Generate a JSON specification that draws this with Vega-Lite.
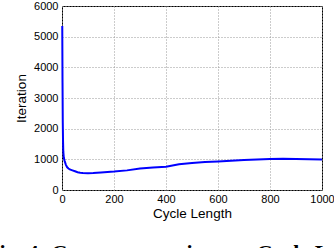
{
  "$schema": "https://vega.github.io/schema/vega-lite/v6.json",
  "autosize": "none",
  "width": 260,
  "height": 184,
  "padding": {"left": 62, "top": 6, "right": 12, "bottom": 58},
  "background": "white",
  "title": {
    "text": "Fig. 4: Convergence time vs. Cycle Length",
    "orient": "bottom",
    "anchor": "start",
    "frame": "group",
    "font": "Liberation Serif",
    "fontWeight": "bold",
    "fontSize": 22,
    "color": "#000",
    "baseline": "top",
    "dx": -76,
    "offset": 23
  },
  "config": {
    "view": {"stroke": "#000", "strokeWidth": 1},
    "axis": {
      "domain": false,
      "ticks": false,
      "grid": true,
      "gridColor": "#999",
      "gridDash": [1, 2],
      "gridWidth": 1,
      "format": "d",
      "labelFont": "Liberation Sans",
      "labelFontSize": 11,
      "labelColor": "#000",
      "titleFont": "Liberation Sans",
      "titleFontSize": 13.5,
      "titleFontWeight": "normal",
      "titleColor": "#000"
    }
  },
  "data": {
    "values": [
      {"cycle": 1, "iter": 5350},
      {"cycle": 2, "iter": 3500},
      {"cycle": 3, "iter": 2200},
      {"cycle": 4, "iter": 1600},
      {"cycle": 5, "iter": 1250},
      {"cycle": 7, "iter": 1050},
      {"cycle": 10, "iter": 950},
      {"cycle": 15, "iter": 820},
      {"cycle": 20, "iter": 740},
      {"cycle": 25, "iter": 700},
      {"cycle": 30, "iter": 670},
      {"cycle": 40, "iter": 640},
      {"cycle": 50, "iter": 610},
      {"cycle": 60, "iter": 580},
      {"cycle": 70, "iter": 565},
      {"cycle": 80, "iter": 555},
      {"cycle": 100, "iter": 550},
      {"cycle": 120, "iter": 555},
      {"cycle": 150, "iter": 570},
      {"cycle": 200, "iter": 600},
      {"cycle": 250, "iter": 640},
      {"cycle": 300, "iter": 700},
      {"cycle": 350, "iter": 730},
      {"cycle": 400, "iter": 760},
      {"cycle": 450, "iter": 840},
      {"cycle": 500, "iter": 880},
      {"cycle": 550, "iter": 910},
      {"cycle": 600, "iter": 930},
      {"cycle": 650, "iter": 950},
      {"cycle": 700, "iter": 975},
      {"cycle": 750, "iter": 995},
      {"cycle": 800, "iter": 1010},
      {"cycle": 850, "iter": 1020},
      {"cycle": 900, "iter": 1010},
      {"cycle": 950, "iter": 1000},
      {"cycle": 1000, "iter": 995}
    ]
  },
  "mark": {"type": "line", "color": "#0000ff", "strokeWidth": 2},
  "encoding": {
    "x": {
      "field": "cycle",
      "type": "quantitative",
      "scale": {"domain": [0, 1000], "nice": false},
      "axis": {"values": [0, 200, 400, 600, 800, 1000], "title": "Cycle Length", "labelPadding": 3, "titlePadding": 2, "labelFlush": false}
    },
    "y": {
      "field": "iter",
      "type": "quantitative",
      "scale": {"domain": [0, 6000], "nice": false},
      "axis": {"values": [0, 1000, 2000, 3000, 4000, 5000, 6000], "title": "Iteration", "labelPadding": 4, "titlePadding": 5, "labelFlush": false}
    }
  }
}
